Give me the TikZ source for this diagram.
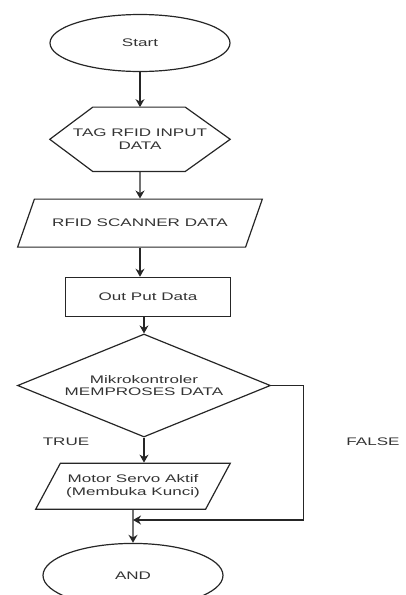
\documentclass[tikz,border=0pt]{standalone}
\usepackage{fontspec}
\setmainfont[FakeStretch=1.55]{Liberation Sans}
\usepackage{tikz}
\usetikzlibrary{shapes.geometric, arrows.meta, positioning}

\begin{document}
\begin{tikzpicture}[x=1pt, y=-1pt, node distance=25pt and 20pt, auto, font=\fontsize{11}{12.5}\selectfont]

    % Define style for different elements
    \tikzstyle{startstop} = [ellipse, minimum width=180pt, minimum height=57pt, text centered, draw=black!85, line width=1.2pt, text=black!80]
    \tikzstyle{hexa} = [rectangle, minimum width=180pt, minimum height=64pt, align=center, text=black!80]
    \tikzstyle{io} = [trapezium, trapezium stretches=true, trapezium left angle=45, trapezium right angle=135, minimum width=245pt, minimum height=48pt, align=center, draw=black!85, line width=1.2pt, text=black!80]
    \tikzstyle{process} = [rectangle, minimum width=165pt, minimum height=39pt, text centered, draw=black!85, line width=1.2pt, text=black!80]
    \tikzstyle{decision} = [diamond, aspect=2.45, minimum width=253pt, minimum height=103pt, align=center, draw=black!85, line width=1.2pt, text=black!80]
    \tikzstyle{line} = [draw=black!85, line width=1.2pt]
    \tikzstyle{arrow} = [line, -{Stealth[length=8pt, width=9pt]}]

    \useasboundingbox (0,0) rectangle (406,595);

    % Place nodes
    \node (start) [startstop] at (140,43) {Start};
    \node (tag) [hexa, below=35pt of start] {TAG RFID INPUT\\DATA};
    \node (scan) [io, below=27pt of tag] {RFID SCANNER DATA};
    \node (output) [process, below=29pt of scan, xshift=8pt] {Out Put Data};
    \node (mcu) [decision, below=16.5pt of output, xshift=-4pt] {Mikrokontroler\\MEMPROSES DATA};
    \node (servo) [io, trapezium left angle=51, trapezium right angle=129, minimum width=195pt, minimum height=46pt, below=25pt of mcu, xshift=-11pt] {Motor Servo Aktif\\(Membuka Kunci)};
    \node (stop) [startstop, minimum height=64pt, below=33pt of servo] {AND};
    \node (true) [text=black!80] at (66,442) {TRUE};
    \node (false) [text=black!80] at (373,442) {FALSE};
    \coordinate (join) at (servo.south |- 0,520);

    % Hexagon outline
    \draw [line] (tag.west) -- ([xshift=43pt]tag.north west) -- ([xshift=-45pt]tag.north east) -- (tag.east)
        -- ([xshift=-45pt]tag.south east) -- ([xshift=43pt]tag.south west) -- cycle;

    % Draw arrows
    \draw [arrow] (start) -- (tag);
    \draw [arrow] (tag) -- (scan);
    \draw [arrow] (scan.south) -- (scan.south |- output.north);
    \draw [arrow] (output.south -| mcu.north) -- (mcu.north);
    \draw [arrow] (mcu.south) -- (mcu.south |- servo.north);
    \draw [arrow] (servo) -- (stop);
    \draw [arrow] (mcu.east) -- ++(32,0) |- (join);

\end{tikzpicture}
\end{document}
